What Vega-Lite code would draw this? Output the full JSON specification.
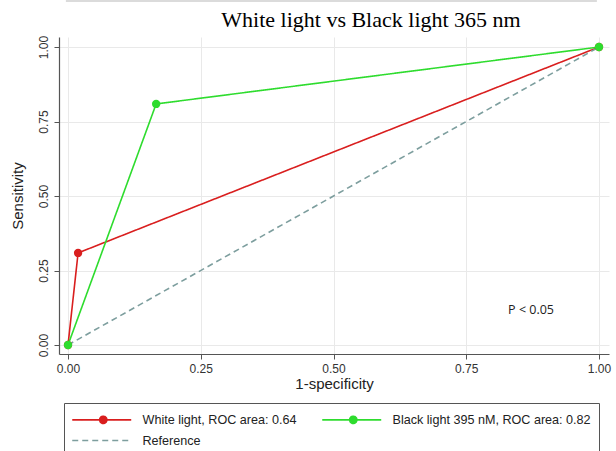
{
  "$schema": "https://vega.github.io/schema/vega-lite/v6.json",
  "width": 550,
  "height": 317,
  "autosize": {"type": "none"},
  "padding": {"left": 59, "top": 37, "right": 7, "bottom": 97},
  "background": "white",
  "title": {
    "text": "White light vs Black light 365 nm",
    "font": "Liberation Serif",
    "fontSize": 22,
    "fontWeight": "normal",
    "color": "#000000",
    "anchor": "middle",
    "dx": 37,
    "offset": -54,
    "baseline": "bottom"
  },
  "config": {
    "view": {"stroke": null},
    "axis": {
      "labelFont": "Liberation Sans",
      "titleFont": "Liberation Sans",
      "labelFontSize": 12,
      "titleFontSize": 15,
      "titleFontWeight": "normal",
      "labelColor": "#333333",
      "titleColor": "#222222",
      "domainColor": "#555555",
      "tickColor": "#555555",
      "gridColor": "#e9e9e9",
      "tickSize": 5,
      "domainWidth": 1.2
    }
  },
  "datasets": {
    "roc": [
      {"series": "White light, ROC area: 0.64", "fpr": 0, "tpr": 0},
      {"series": "White light, ROC area: 0.64", "fpr": 0.019, "tpr": 0.309},
      {"series": "White light, ROC area: 0.64", "fpr": 1, "tpr": 1},
      {"series": "Black light 395 nM, ROC area: 0.82", "fpr": 0, "tpr": 0},
      {"series": "Black light 395 nM, ROC area: 0.82", "fpr": 0.166, "tpr": 0.809},
      {"series": "Black light 395 nM, ROC area: 0.82", "fpr": 1, "tpr": 1},
      {"series": "Reference", "fpr": 0, "tpr": 0},
      {"series": "Reference", "fpr": 1, "tpr": 1}
    ]
  },
  "layer": [
    {
      "data": {"values": [{"x1": -0.004, "x2": 0.996, "y": 1.154}]},
      "mark": {"type": "rule", "color": "#cfcfcf", "strokeWidth": 1.5},
      "encoding": {
        "x": {"field": "x1", "type": "quantitative"},
        "x2": {"field": "x2"},
        "y": {"field": "y", "type": "quantitative"}
      }
    },
    {
      "data": {"name": "roc"},
      "mark": {"type": "line", "strokeWidth": 1.6},
      "encoding": {
        "x": {
          "field": "fpr", "type": "quantitative",
          "scale": {"domain": [-0.01695, 1.0188], "nice": false, "zero": false},
          "axis": {"values": [0, 0.25, 0.5, 0.75, 1], "format": ".2f", "title": "1-specificity", "titlePadding": 2, "labelPadding": 4}
        },
        "y": {
          "field": "tpr", "type": "quantitative",
          "scale": {"domain": [-0.0302, 1.0336], "nice": false, "zero": false},
          "axis": {"values": [0, 0.25, 0.5, 0.75, 1], "format": ".2f", "title": "Sensitivity", "labelAngle": 270, "labelAlign": "center", "labelBaseline": "bottom", "labelPadding": 4, "titlePadding": 12}
        },
        "color": {
          "field": "series", "type": "nominal",
          "scale": {
            "domain": ["White light, ROC area: 0.64", "Black light 395 nM, ROC area: 0.82", "Reference"],
            "range": ["#d91e1e", "#2edc2e", "#7d9e9e"]
          },
          "legend": {
            "title": null,
            "orient": "none",
            "legendX": 5,
            "legendY": 366,
            "columns": 2,
            "direction": "horizontal",
            "strokeColor": "#555555",
            "padding": 8,
            "columnPadding": 22,
            "rowPadding": 5,
            "labelFont": "Liberation Sans",
            "labelFontSize": 12.6,
            "labelColor": "#222222",
            "labelLimit": 300,
            "labelOffset": 53.5,
            "symbolSize": 210,
            "symbolStrokeWidth": 1.6,
            "symbolType": "M-1.14,0H7",
            "encode": {
              "symbols": {
                "update": {
                  "shape": {"signal": "datum.label === 'Reference' ? 'M-1.14,0H7' : 'M-1.14,0H7M2.64,0A0.5,0.5 0 1,1 3.64,0A0.5,0.5 0 1,1 2.64,0Z'"},
                  "fill": {"signal": "datum.label === 'Reference' ? 'transparent' : scale('color', datum.value)"},
                  "strokeDash": {"signal": "datum.label === 'Reference' ? [6,4] : [1,0]"}
                }
              }
            }
          }
        },
        "strokeDash": {
          "field": "series", "type": "nominal",
          "scale": {
            "domain": ["White light, ROC area: 0.64", "Black light 395 nM, ROC area: 0.82", "Reference"],
            "range": [[1, 0], [1, 0], [6, 4]]
          },
          "legend": null
        }
      }
    },
    {
      "data": {"name": "roc"},
      "transform": [{"filter": "datum.series !== 'Reference'"}],
      "mark": {"type": "point", "filled": true, "size": 70, "opacity": 1},
      "encoding": {
        "x": {"field": "fpr", "type": "quantitative"},
        "y": {"field": "tpr", "type": "quantitative"},
        "color": {"field": "series", "type": "nominal", "legend": null}
      }
    },
    {
      "data": {"values": [{"x": 0.872, "y": 0.118, "label": "P < 0.05"}]},
      "mark": {"type": "text", "font": "Open Sans", "fontSize": 12.5, "color": "#222222", "align": "center", "baseline": "middle"},
      "encoding": {
        "x": {"field": "x", "type": "quantitative"},
        "y": {"field": "y", "type": "quantitative"},
        "text": {"field": "label"}
      }
    }
  ]
}
